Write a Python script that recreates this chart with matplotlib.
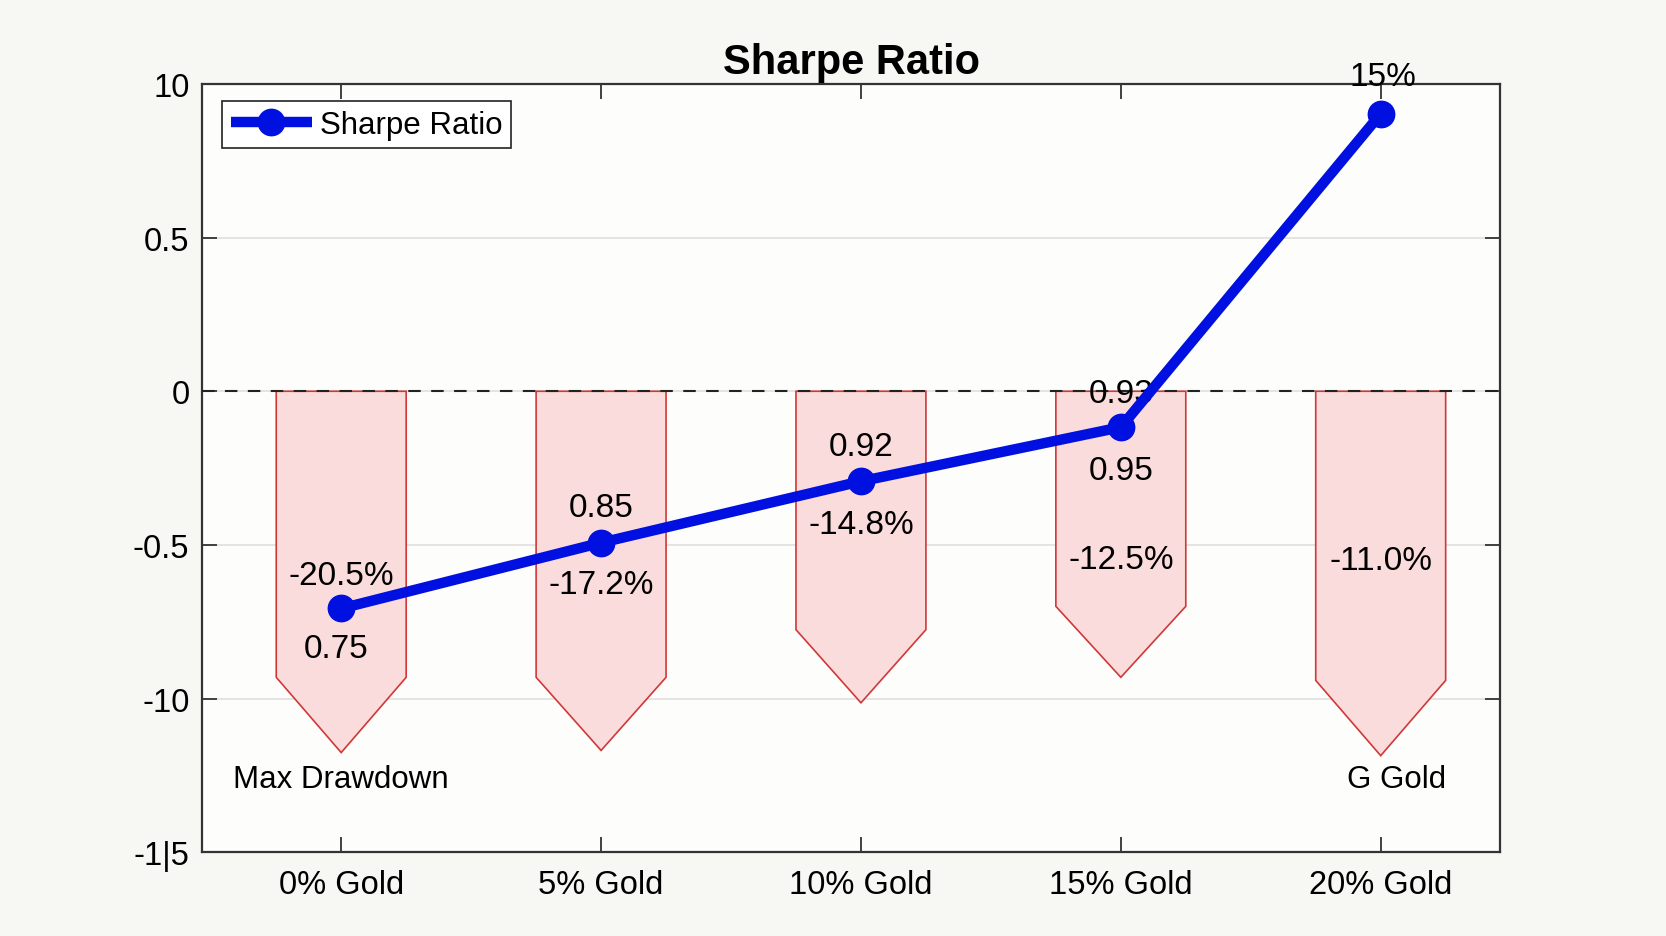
import matplotlib
matplotlib.use("Agg")
import matplotlib.pyplot as plt
from matplotlib.patches import Polygon

plt.rcParams['font.family'] = ['Liberation Sans', 'DejaVu Sans']

categories = ["0% Gold", "5% Gold", "10% Gold", "15% Gold", "20% Gold"]
sharpe = [-0.707, -0.493, -0.293, -0.117, 0.903]
dd_body = [-0.931, -0.931, -0.776, -0.700, -0.941]
dd_tip = [-1.176, -1.169, -1.014, -0.931, -1.186]
sharpe_labels = ["0.75", "0.85", "0.92", "0.95", "15%"]
sharpe_label_y = [-0.838, -0.379, -0.179, -0.259, 1.024]
sharpe_label_dx = [-0.02, 0.0, 0.0, 0.0, 0.01]
dd_labels = ["-20.5%", "-17.2%", "-14.8%", "-12.5%", "-11.0%"]
dd_label_y = [-0.60, -0.628, -0.434, -0.548, -0.552]
extra_label = "0.93"
extra_label_y = -0.007
yticks = [1.0, 0.5, 0.0, -0.5, -1.0, -1.5]
ytick_labels = ["10", "0.5", "0", "-0.5", "-10", "-1|5"]

fig = plt.figure(figsize=(16.66, 9.37), dpi=100, facecolor='#f7f7f4')
ax = fig.add_axes([0.1212, 0.0895, 0.7793, 0.8198])
ax.set_facecolor('#fdfdfc')

x = list(range(len(categories)))
hw = 0.25
for xi, b, t in zip(x, dd_body, dd_tip):
    poly = Polygon([(xi - hw, 0), (xi + hw, 0), (xi + hw, b), (xi, t), (xi - hw, b)],
                   closed=True, facecolor='#fbdcdc', edgecolor='#d03838', lw=1.2, zorder=2)
    ax.add_patch(poly)

ax.axhline(0, color='#222222', ls=(0, (6, 5)), lw=1.5, zorder=3)

ax.plot(x, sharpe, color='#0010e0', lw=7.5, marker='o', markersize=19,
        label='Sharpe Ratio', zorder=5, solid_capstyle='butt')

fs_lab = 24
for xi, lab, ly, dx in zip(x, sharpe_labels, sharpe_label_y, sharpe_label_dx):
    ax.text(xi + dx, ly, lab, ha='center', va='center', fontsize=fs_lab, color='black', zorder=6)
for xi, lab, ly in zip(x, dd_labels, dd_label_y):
    ax.text(xi, ly, lab, ha='center', va='center', fontsize=fs_lab, color='black', zorder=6)
ax.text(x[3], extra_label_y, extra_label, ha='center', va='center', fontsize=fs_lab, color='black', zorder=4)
ax.text(x[0], -1.262, "Max Drawdown", ha='center', va='center', fontsize=22.5, color='black')
ax.text(x[4] + 0.06, -1.262, "G Gold", ha='center', va='center', fontsize=22.5, color='black')

ax.set_xlim(-0.536, 4.46)
ax.set_ylim(-1.5, 0.99)
ax.set_xticks(x)
ax.set_xticklabels(categories, fontsize=23.5)
ax.set_yticks(yticks)
ax.set_yticklabels(ytick_labels, fontsize=23.5)
ax.tick_params(direction='in', length=11, width=1.3, color='#333333', top=True, right=True)
ax.tick_params(axis='y', pad=9)
ax.tick_params(axis='x', pad=12)
ax.grid(axis='y', color='#dddddd', lw=1.1, zorder=0)
ax.set_axisbelow(True)
for s in ax.spines.values():
    s.set_color('#333333')
    s.set_linewidth(1.6)

ax.set_title("Sharpe Ratio", fontsize=30, fontweight='bold', pad=8)

leg = ax.legend(loc='upper left', bbox_to_anchor=(0.0155, 0.978), borderaxespad=0,
                fontsize=22.5, handlelength=2.6, frameon=True, fancybox=False,
                borderpad=0.28, handletextpad=0.25)
leg.get_frame().set_edgecolor('#222222')
leg.get_frame().set_linewidth(1.2)
leg.get_frame().set_alpha(1)

fig.savefig("out.png", dpi=100, facecolor=fig.get_facecolor())
